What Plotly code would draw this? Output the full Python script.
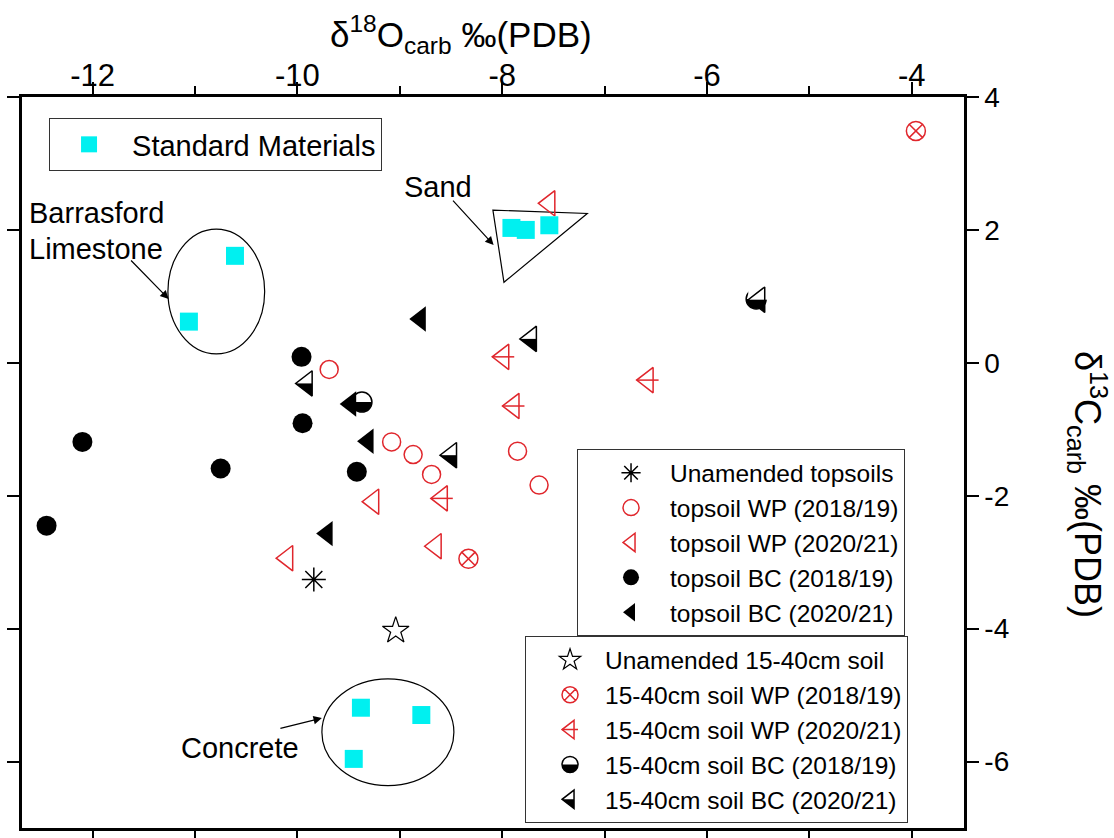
import plotly.graph_objects as go

RED = "#e0262c"
CYAN = "#00f0f0"
BLACK = "#000000"
CLEAR = "rgba(0,0,0,0)"
SANS = "Liberation Sans, Arial, sans-serif"

# δ18O (x) and δ13C (y), ‰ PDB
std_x = [-10.61, -11.06, -7.91, -7.77, -7.54, -9.38, -8.79, -9.45]
std_y = [1.61, 0.62, 2.03, 2.00, 2.07, -5.19, -5.30, -5.96]

top_unam_x = [-9.84]
top_unam_y = [-3.26]
top_wp19_x = [-9.69, -9.08, -8.87, -8.69, -7.85, -7.64]
top_wp19_y = [-0.10, -1.19, -1.38, -1.68, -1.33, -1.84]
top_wp21_x = [-7.54, -9.26, -8.65, -10.10]
top_wp21_y = [2.40, -2.09, -2.76, -2.94]
top_bc19_x = [-9.96, -9.95, -9.42, -12.10, -10.75, -12.45]
top_bc19_y = [0.09, -0.91, -1.64, -1.19, -1.59, -2.45]
top_bc21_x = [-8.80, -9.31, -9.71, -9.48]
top_bc21_y = [0.66, -1.18, -2.57, -0.62]

sub_unam_x = [-9.04]
sub_unam_y = [-4.03]
sub_wp19_x = [-3.96, -8.33]
sub_wp19_y = [3.49, -2.95]
sub_wp21_x = [-7.99, -7.89, -8.59, -6.58]
sub_wp21_y = [0.09, -0.65, -2.04, -0.26]
sub_bc19_x = [-9.37, -5.52]
sub_bc19_y = [-0.59, 0.96]
sub_bc21_x = [-9.91, -8.50, -7.72, -5.49]
sub_bc21_y = [-0.31, -1.39, 0.36, 0.95]

x_ticks = [-12, -10, -8, -6, -4]
x_minor = [-11, -9, -7, -5]
x_bottom = [-12, -11, -10, -9, -8, -7, -6, -5, -4]
y_ticks = [4, 2, 0, -2, -4, -6]

names_top = ["Unamended topsoils", "topsoil WP (2018/19)", "topsoil WP (2020/21)",
             "topsoil BC (2018/19)", "topsoil BC (2020/21)"]
names_sub = ["Unamended 15-40cm soil", "15-40cm soil WP (2018/19)", "15-40cm soil WP (2020/21)",
             "15-40cm soil BC (2018/19)", "15-40cm soil BC (2020/21)"]

fig = go.Figure()


def pts(x, y, name, legend, symbol, size, color, lw=0.0, lcolor=None,
        showlegend=True, angle=0, standoff=0):
    fig.add_trace(go.Scatter(
        x=x, y=y, mode="markers", name=name, legend=legend, showlegend=showlegend,
        hoverinfo="skip",
        marker=dict(symbol=symbol, size=size, color=color, angle=angle, standoff=standoff,
                    line=dict(width=lw, color=lcolor if lcolor else color))))


# ---- 15-40 cm soils (drawn first so topsoil markers sit above) ----
pts(sub_unam_x, sub_unam_y, names_sub[0], "legend3", "star-open", 20, BLACK, 1.2)
pts(sub_wp19_x, sub_wp19_y, names_sub[1], "legend3", "circle-x-open", 19, RED, 1.5)
pts(sub_wp21_x, sub_wp21_y, names_sub[2], "legend3", "triangle-left-open", 22, RED, 1.5)
pts(sub_wp21_x, sub_wp21_y, names_sub[2], "legend3", "line-ew-open", 15.7, RED, 1.5,
    showlegend=False)
# half-filled circle: black disc, white cover over the upper half, outline
pts(sub_bc19_x, sub_bc19_y, names_sub[3], "legend3", "circle", 20, BLACK)
pts(sub_bc19_x, sub_bc19_y, names_sub[3], "legend3", "line-ew-open", 15, "white", 10,
    showlegend=False, angle=180, standoff=5)
pts(sub_bc19_x, sub_bc19_y, names_sub[3], "legend3", "circle-open", 20, BLACK, 1.5,
    showlegend=False)
# half-filled triangle
pts(sub_bc21_x, sub_bc21_y, names_sub[4], "legend3", "triangle-left", 22, BLACK)
pts(sub_bc21_x, sub_bc21_y, names_sub[4], "legend3", "line-ew-open", 15.7, "white", 12.7,
    showlegend=False, angle=180, standoff=6.35)
pts(sub_bc21_x, sub_bc21_y, names_sub[4], "legend3", "triangle-left-open", 22, BLACK, 1.5,
    showlegend=False)

# legend overlays for the composite symbols (two transparent legends stacked on legend3)
N = [None]
pts(N, N, names_sub[0], "legend4", "circle", 10, CLEAR)
pts(N, N, names_sub[1], "legend4", "circle", 10, CLEAR)
pts(N, N, names_sub[2], "legend4", "line-ew-open", 11.4, RED, 1.5)
pts(N, N, names_sub[3], "legend4", "square", 16, "white", angle=0, standoff=8)
pts(N, N, names_sub[4], "legend4", "square", 16, "white", angle=0, standoff=8)
pts(N, N, names_sub[0], "legend5", "circle", 10, CLEAR)
pts(N, N, names_sub[1], "legend5", "circle", 10, CLEAR)
pts(N, N, names_sub[2], "legend5", "circle", 10, CLEAR)
pts(N, N, names_sub[3], "legend5", "circle-open", 16, BLACK, 1.5)
pts(N, N, names_sub[4], "legend5", "triangle-left-open", 16, BLACK, 1.5)

# ---- topsoils ----
pts(top_unam_x, top_unam_y, names_top[0], "legend2", "asterisk-open", 20, BLACK, 1.5)
pts(top_wp19_x, top_wp19_y, names_top[1], "legend2", "circle-open", 18, RED, 1.5)
pts(top_wp21_x, top_wp21_y, names_top[2], "legend2", "triangle-left-open", 22, RED, 1.5)
pts(top_bc19_x, top_bc19_y, names_top[3], "legend2", "circle", 20, BLACK)
pts(top_bc21_x, top_bc21_y, names_top[4], "legend2", "triangle-left", 22, BLACK)

# ---- standard materials ----
pts(std_x, std_y, "Standard Materials", "legend", "square", 18, CYAN)

# carrier for the bottom tick axis
fig.add_trace(go.Scatter(x=N, y=N, xaxis="x2", showlegend=False, hoverinfo="skip"))

# ---- group outlines and labels ----
shapes = [
    dict(type="circle", xref="x", yref="y", x0=-11.265, x1=-10.32, y0=0.135, y1=2.012),
    dict(type="circle", xref="x", yref="y", x0=-9.761, x1=-8.472, y0=-6.362, y1=-4.755),
    dict(type="path", xref="x", yref="y",
         path="M -8.091 2.297 L -7.169 2.248 L -7.983 1.212 Z"),
]
for s in shapes:
    s["line"] = dict(color=BLACK, width=1.2)
    s["layer"] = "below"

labels = [
    ("Barrasford", -12.64, 2.25),
    ("Limestone", -12.64, 1.71),
    ("Sand", -8.98, 2.64),
    ("Concrete", -11.16, -5.80),
]
annotations = [dict(text=t, x=x, y=y, xref="x", yref="y", xanchor="left", showarrow=False,
                    font=dict(family=SANS, size=29, color=BLACK)) for t, x, y in labels]

arrows = [
    ((-11.639, 1.562), (-11.258, 0.961)),
    ((-8.494, 2.462), (-8.084, 1.772)),
    ((-10.181, -5.506), (-9.761, -5.345)),
]
for (tx, ty), (hx, hy) in arrows:
    annotations.append(dict(x=hx, y=hy, ax=tx, ay=ty, xref="x", yref="y", axref="x", ayref="y",
                            text="", showarrow=True, arrowhead=2, arrowsize=1.4,
                            arrowwidth=1.2, arrowcolor=BLACK))

annotations.append(dict(text="δ<sup>18</sup>O<sub>carb</sub> ‰(PDB)", xref="paper", yref="paper",
                        x=0.466, y=1.086, xanchor="center", yanchor="middle", showarrow=False,
                        font=dict(family=SANS, size=35, color=BLACK)))
annotations.append(dict(text="δ<sup>13</sup>C<sub>carb</sub> ‰(PDB)", xref="paper", yref="paper",
                        x=1.131, y=0.47, xanchor="center", yanchor="middle", textangle=90,
                        showarrow=False, font=dict(family=SANS, size=36, color=BLACK)))

LEG_FS = 24.5
legend_base = dict(xanchor="left", yanchor="top", bgcolor="white", bordercolor="#333",
                   borderwidth=1, tracegroupgap=0)
sub_legend = dict(x=0.534, y=0.262, font=dict(family=SANS, size=LEG_FS, color=BLACK),
                  itemwidth=60, indentation=9)
overlay = dict(bgcolor=CLEAR, bordercolor=CLEAR)

fig.update_layout(
    width=1114, height=838,
    margin=dict(l=22, r=150, t=97, b=10, autoexpand=False),
    paper_bgcolor="white", plot_bgcolor="white",
    showlegend=True,
    shapes=shapes,
    annotations=annotations,
    xaxis=dict(range=[-12.69, -3.49], side="top", tickmode="array", tickvals=x_ticks,
               ticktext=[str(v) for v in x_ticks], ticks="outside", ticklen=12, tickwidth=2,
               tickcolor=BLACK, showline=True, linewidth=2.5, linecolor=BLACK, mirror=True,
               showgrid=False, zeroline=False, ticklabelstandoff=-16,
               tickfont=dict(family=SANS, size=31, color=BLACK),
               minor=dict(tickmode="array", tickvals=x_minor, ticks="outside", ticklen=8,
                          tickwidth=2, tickcolor=BLACK, showgrid=False)),
    xaxis2=dict(range=[-12.69, -3.49], overlaying="x", side="bottom", anchor="y",
                tickmode="array", tickvals=x_bottom, ticks="outside", ticklen=10, tickwidth=2,
                tickcolor=BLACK, showticklabels=False, showline=False, showgrid=False,
                zeroline=False),
    yaxis=dict(range=[-7, 4], side="right", tickmode="array", tickvals=y_ticks,
               ticktext=[str(v) for v in y_ticks], ticks="outside", ticklen=12, tickwidth=2,
               tickcolor=BLACK, showline=True, linewidth=2.5, linecolor=BLACK, mirror="ticks",
               showgrid=False, zeroline=False,
               tickfont=dict(family=SANS, size=28, color=BLACK)),
    legend=dict(legend_base, x=0.0287, y=0.9713, font=dict(family=SANS, size=29, color=BLACK),
                itemwidth=76, indentation=-4),
    legend2=dict(legend_base, x=0.5892, y=0.518, font=dict(family=SANS, size=LEG_FS, color=BLACK),
                 itemwidth=68, indentation=14),
    legend3=dict(legend_base, **sub_legend),
    legend4=dict(legend_base, **dict(sub_legend, font=dict(family=SANS, size=LEG_FS, color=CLEAR)),
                 **overlay),
    legend5=dict(legend_base, **dict(sub_legend, font=dict(family=SANS, size=LEG_FS, color=CLEAR)),
                 **overlay),
)

fig.write_html("out.html")
